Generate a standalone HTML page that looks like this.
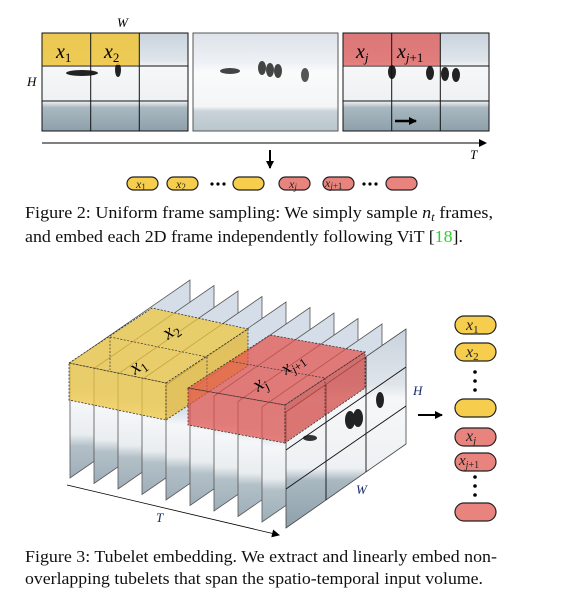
<!DOCTYPE html>
<html><head><meta charset="utf-8"><style>
html,body{margin:0;padding:0;background:#fff;}
svg{display:block;}
.m{font-family:"Liberation Serif",serif;font-style:italic;}
.c{font-family:"Liberation Serif",serif;font-size:17px;fill:#111;}
</style></head><body>
<svg width="562" height="610" viewBox="0 0 562 610" xmlns="http://www.w3.org/2000/svg">
<defs>
<linearGradient id="ph" x1="0" y1="0" x2="0" y2="1">
<stop offset="0" stop-color="#c9d3de"/><stop offset="0.28" stop-color="#dfe5ea"/>
<stop offset="0.35" stop-color="#f6f7f8"/><stop offset="0.7" stop-color="#eef1f3"/>
<stop offset="0.76" stop-color="#a9b8c1"/><stop offset="1" stop-color="#8ea0ab"/>
</linearGradient>
<linearGradient id="ph2" x1="0" y1="0" x2="0" y2="1">
<stop offset="0" stop-color="#dde3ea"/><stop offset="0.3" stop-color="#eef1f4"/>
<stop offset="0.4" stop-color="#fafbfb"/><stop offset="0.75" stop-color="#f3f5f6"/>
<stop offset="0.8" stop-color="#c9d3d9"/><stop offset="1" stop-color="#b9c6cd"/>
</linearGradient>
<linearGradient id="fr" x1="0" y1="0" x2="0" y2="1">
<stop offset="0" stop-color="#d4dde8"/><stop offset="0.55" stop-color="#d7dfe8"/>
<stop offset="0.62" stop-color="#f5f7f9"/><stop offset="0.78" stop-color="#e9edf0"/>
<stop offset="0.84" stop-color="#b3c0c8"/><stop offset="1" stop-color="#9eaeb8"/>
</linearGradient>
<marker id="ah" markerWidth="8" markerHeight="8" refX="7" refY="4" orient="auto" markerUnits="userSpaceOnUse">
<path d="M0,0 L8,4 L0,8 z" fill="#000"/></marker>
<polygon id="frm" points="70,363 190,280 190,395 70,478" fill="url(#fr)" stroke="#555" stroke-width="0.8"/>
</defs>

<!-- ===== Figure 2 ===== -->
<text x="117" y="27" class="m" font-size="13">W</text>
<text x="27" y="86" class="m" font-size="13">H</text>
<!-- frame 1 -->
<rect x="42" y="33" width="146" height="98" fill="url(#ph)"/>
<ellipse cx="82" cy="73" rx="16" ry="3" fill="#222"/>
<ellipse cx="118" cy="70" rx="3" ry="7" fill="#222"/>
<rect x="42" y="33" width="97" height="32" fill="#f0c63a" opacity="0.85"/>
<g stroke="#111" stroke-width="1" fill="none">
<rect x="42" y="33" width="146" height="98"/>
<line x1="90.7" y1="33" x2="90.7" y2="131"/><line x1="139.3" y1="33" x2="139.3" y2="131"/>
<line x1="42" y1="66" x2="188" y2="66"/><line x1="42" y1="101" x2="188" y2="101"/>
</g>
<text x="56" y="58" class="m" font-size="20">x<tspan font-size="13" dy="4" font-style="normal">1</tspan></text>
<text x="104" y="58" class="m" font-size="20">x<tspan font-size="13" dy="4" font-style="normal">2</tspan></text>
<!-- frame 2 -->
<rect x="193" y="33" width="145" height="98" fill="url(#ph2)" stroke="#555" stroke-width="1"/>
<ellipse cx="230" cy="71" rx="10" ry="3" fill="#444"/>
<ellipse cx="262" cy="68" rx="4" ry="7" fill="#444"/><ellipse cx="270" cy="70" rx="4" ry="7" fill="#444"/>
<ellipse cx="278" cy="71" rx="4" ry="7" fill="#444"/><ellipse cx="305" cy="75" rx="4" ry="7" fill="#555"/>
<!-- frame 3 -->
<rect x="343" y="33" width="146" height="98" fill="url(#ph)"/>
<rect x="343" y="33" width="97" height="32" fill="#e05a55" opacity="0.75"/>
<ellipse cx="392" cy="72" rx="4" ry="7" fill="#222"/><ellipse cx="430" cy="73" rx="4" ry="7" fill="#222"/>
<ellipse cx="445" cy="74" rx="4" ry="7" fill="#222"/><ellipse cx="456" cy="75" rx="4" ry="7" fill="#222"/>
<g stroke="#111" stroke-width="1" fill="none">
<rect x="343" y="33" width="146" height="98"/>
<line x1="391.7" y1="33" x2="391.7" y2="131"/><line x1="440.3" y1="33" x2="440.3" y2="131"/>
<line x1="343" y1="66" x2="489" y2="66"/><line x1="343" y1="101" x2="489" y2="101"/>
</g>
<line x1="395" y1="121" x2="416" y2="121" stroke="#000" stroke-width="2.5" marker-end="url(#ah)"/>
<text x="356" y="58" class="m" font-size="20">x<tspan font-size="13" dy="4">j</tspan></text>
<text x="397" y="58" class="m" font-size="20">x<tspan font-size="13" dy="4">j</tspan><tspan font-size="13" font-style="normal">+1</tspan></text>
<!-- axis -->
<line x1="42" y1="143" x2="486" y2="143" stroke="#000" stroke-width="1" marker-end="url(#ah)"/>
<text x="470" y="159" class="m" font-size="13">T</text>
<line x1="270" y1="150" x2="270" y2="168" stroke="#000" stroke-width="2" marker-end="url(#ah)"/>
<!-- tokens -->
<g stroke="#222" stroke-width="1.2">
<rect x="127" y="177" width="31" height="13" rx="6.5" fill="#f6cd4c"/>
<rect x="167" y="177" width="31" height="13" rx="6.5" fill="#f6cd4c"/>
<rect x="233" y="177" width="31" height="13" rx="6.5" fill="#f6cd4c"/>
<rect x="279" y="177" width="31" height="13" rx="6.5" fill="#e8847d"/>
<rect x="323" y="177" width="31" height="13" rx="6.5" fill="#e8847d"/>
<rect x="386" y="177" width="31" height="13" rx="6.5" fill="#e8847d"/>
</g>
<g fill="#000"><circle cx="212" cy="184" r="1.6"/><circle cx="218" cy="184" r="1.6"/><circle cx="224" cy="184" r="1.6"/>
<circle cx="364" cy="184" r="1.6"/><circle cx="370" cy="184" r="1.6"/><circle cx="376" cy="184" r="1.6"/></g>
<g class="m" font-size="12" fill="#222">
<text x="136" y="188">x<tspan font-size="9" font-style="normal" dy="2">1</tspan></text>
<text x="176" y="188">x<tspan font-size="9" font-style="normal" dy="2">2</tspan></text>
<text x="289" y="188">x<tspan font-size="9" dy="2">j</tspan></text>
<text x="325" y="187">x<tspan font-size="9" dy="2">j</tspan><tspan font-size="9" font-style="normal">+1</tspan></text>
</g>
<text x="25" y="218" class="c" textLength="468" lengthAdjust="spacingAndGlyphs">Figure 2: Uniform frame sampling: We simply sample <tspan font-style="italic">n</tspan><tspan font-style="italic" font-size="12" dy="3">t</tspan><tspan dy="-3"> frames,</tspan></text>
<text x="25" y="242" class="c" textLength="438" lengthAdjust="spacingAndGlyphs">and embed each 2D frame independently following ViT [<tspan fill="#2bd12b">18</tspan>].</text>

<!-- ===== Figure 3 ===== -->
<use href="#frm"/>
<use href="#frm" transform="translate(24,5.5)"/>
<use href="#frm" transform="translate(48,11)"/>
<use href="#frm" transform="translate(72,16.5)"/>
<use href="#frm" transform="translate(96,22)"/>
<use href="#frm" transform="translate(120,27.5)"/>
<use href="#frm" transform="translate(144,33)"/>
<use href="#frm" transform="translate(168,38.5)"/>
<use href="#frm" transform="translate(192,44)"/>
<!-- front photo frame -->
<polygon points="286,412 406,329 406,444 286,528" fill="url(#ph)" stroke="#444" stroke-width="0.8"/>
<ellipse cx="350" cy="420" rx="5" ry="9" fill="#222"/><ellipse cx="358" cy="418" rx="5" ry="9" fill="#222"/>
<ellipse cx="380" cy="400" rx="4" ry="8" fill="#222"/><ellipse cx="310" cy="438" rx="7" ry="3" fill="#333"/>
<g stroke="#111" stroke-width="0.9">
<line x1="286" y1="450" x2="406" y2="367"/><line x1="286" y1="489" x2="406" y2="406"/>
<line x1="326" y1="384" x2="326" y2="500"/><line x1="366" y1="357" x2="366" y2="472"/>
</g>
<!-- yellow tubelets -->
<g stroke="#333" stroke-width="0.8" stroke-dasharray="2,1.5" fill="#f0c63a" fill-opacity="0.72">
<polygon points="69,363 152,308 248,329 166,383"/>
<polygon points="69,363 166,383 166,420 69,400"/>
<polygon points="166,383 248,329 248,366 166,420" fill="#e6b62a"/>
</g>
<g stroke="#333" stroke-width="0.7" stroke-dasharray="2,1.5" fill="none">
<line x1="110" y1="337" x2="207" y2="357"/><line x1="207" y1="357" x2="207" y2="393"/>
<line x1="110" y1="337" x2="110" y2="370"/>
</g>
<!-- red tubelets -->
<g stroke="#333" stroke-width="0.8" stroke-dasharray="2,1.5" fill="#e2504a" fill-opacity="0.7">
<polygon points="188,388 270,335 365,352 285,405"/>
<polygon points="188,388 285,405 285,443 188,425"/>
<polygon points="285,405 365,352 365,388 285,443" fill="#cf3f3a"/>
</g>
<g stroke="#333" stroke-width="0.7" stroke-dasharray="2,1.5" fill="none">
<line x1="229" y1="361" x2="325" y2="378"/><line x1="325" y1="378" x2="325" y2="415"/>
</g>
<text class="m" font-size="20" transform="translate(135,375) rotate(-36)">x<tspan font-size="13" font-style="normal" dy="4">1</tspan></text>
<text class="m" font-size="20" transform="translate(168,340) rotate(-36)">x<tspan font-size="13" font-style="normal" dy="4">2</tspan></text>
<text class="m" font-size="20" transform="translate(258,392) rotate(-36)">x<tspan font-size="13" dy="4">j</tspan></text>
<text class="m" font-size="18" transform="translate(286,375) rotate(-36)">x<tspan font-size="12" dy="4">j</tspan><tspan font-size="12" font-style="normal">+1</tspan></text>
<!-- axes -->
<line x1="67" y1="485" x2="279" y2="535" stroke="#000" stroke-width="0.8" marker-end="url(#ah)"/>
<text x="156" y="522" class="m" font-size="13" fill="#1a2a6a">T</text>
<text x="356" y="494" class="m" font-size="13" fill="#1a2a6a">W</text>
<text x="413" y="395" class="m" font-size="13" fill="#1a2a6a">H</text>
<line x1="418" y1="415" x2="442" y2="415" stroke="#000" stroke-width="2" marker-end="url(#ah)"/>
<!-- right tokens -->
<g stroke="#222" stroke-width="1.2">
<rect x="455" y="316" width="41" height="18" rx="9" fill="#f6cd4c"/>
<rect x="455" y="343" width="41" height="18" rx="9" fill="#f6cd4c"/>
<rect x="455" y="399" width="41" height="18" rx="9" fill="#f6cd4c"/>
<rect x="455" y="428" width="41" height="18" rx="9" fill="#e8847d"/>
<rect x="455" y="453" width="41" height="18" rx="9" fill="#e8847d"/>
<rect x="455" y="503" width="41" height="18" rx="9" fill="#e8847d"/>
</g>
<g fill="#000"><circle cx="475" cy="372" r="1.8"/><circle cx="475" cy="381" r="1.8"/><circle cx="475" cy="390" r="1.8"/>
<circle cx="475" cy="477" r="1.8"/><circle cx="475" cy="486" r="1.8"/><circle cx="475" cy="495" r="1.8"/></g>
<g class="m" fill="#222">
<text x="466" y="330" font-size="16">x<tspan font-size="11" font-style="normal" dy="3">1</tspan></text>
<text x="466" y="357" font-size="16">x<tspan font-size="11" font-style="normal" dy="3">2</tspan></text>
<text x="466" y="441" font-size="16">x<tspan font-size="11" dy="3">j</tspan></text>
<text x="459" y="465" font-size="15">x<tspan font-size="10" dy="3">j</tspan><tspan font-size="10" font-style="normal">+1</tspan></text>
</g>
<text x="25" y="562" class="c" textLength="472" lengthAdjust="spacingAndGlyphs">Figure 3: Tubelet embedding. We extract and linearly embed non-</text>
<text x="25" y="584" class="c" textLength="458" lengthAdjust="spacingAndGlyphs">overlapping tubelets that span the spatio-temporal input volume.</text>
</svg>
</body></html>
